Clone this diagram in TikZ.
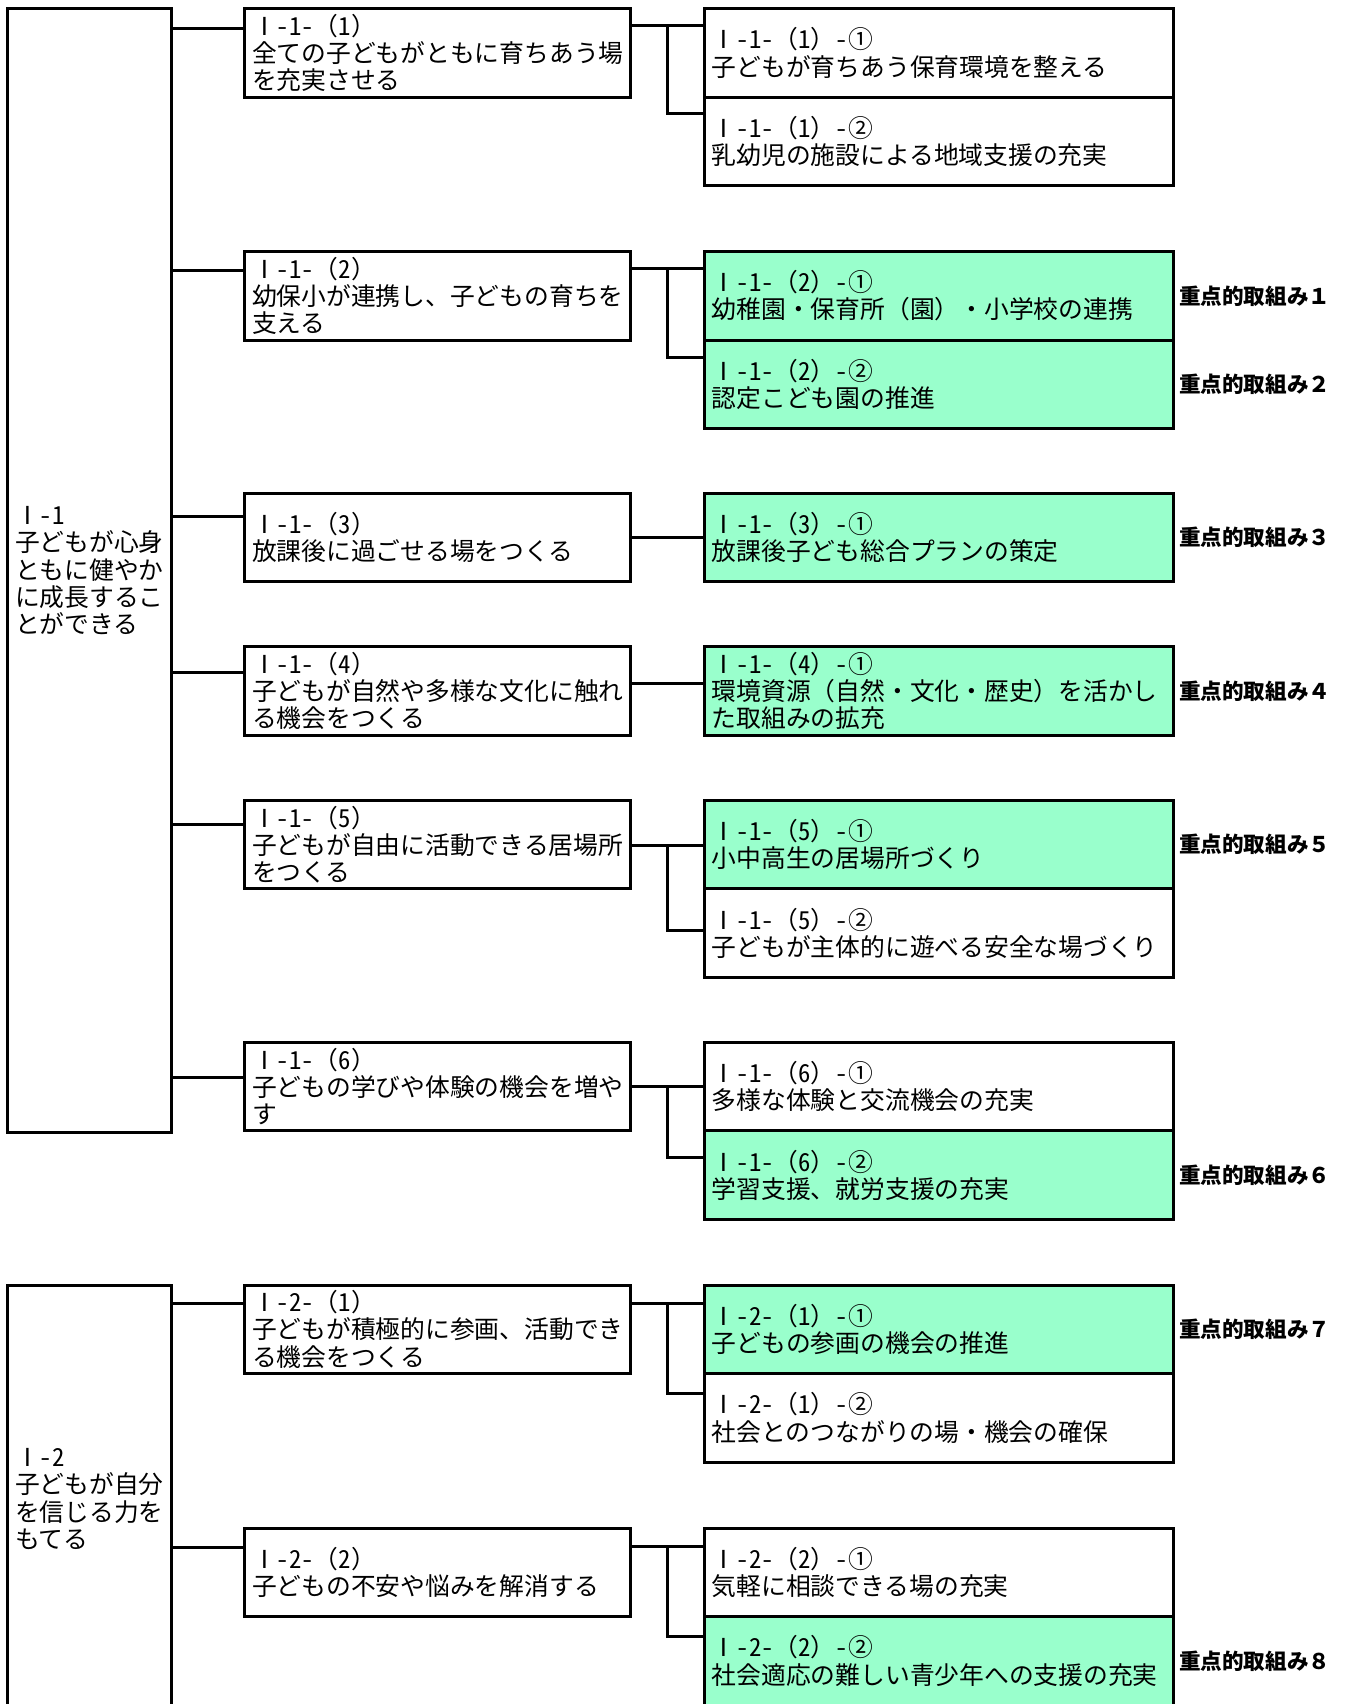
\documentclass[tikz,border=0pt]{standalone}
\usepackage{fontspec}
\setmainfont{Noto Sans CJK JP}
\newfontfamily\halffont[CharacterWidth=Half]{Noto Sans CJK JP}
\newcommand{\hw}[1]{{\halffont #1}}
\usetikzlibrary{positioning, calc}
\definecolor{keygreen}{HTML}{99FFCC}

\begin{document}
\begin{tikzpicture}[
  box/.style={rectangle, draw=black, line width=1.7pt, outer sep=0pt,
              inner xsep=0.15cm, inner ysep=0pt, align=left,
              font=\fontsize{14.1pt}{15.5pt}\selectfont, anchor=north west},
  goalbox/.style={box, text width=2.98cm},
  midbox/.style={box, text width=7.42cm, minimum height=1.772cm},
  subbox/.style={box, text width=9.09cm, minimum height=1.772cm, fill=white},
  keybox/.style={subbox, fill=keygreen},
  keylabel/.style={font=\fontsize{12.3pt}{14pt}\selectfont\bfseries, inner sep=0pt},
  link/.style={line width=1.7pt},
]
\useasboundingbox (0,0) rectangle (26.979,-34.088);

% Goals
\node[goalbox, minimum height=22.48cm] (l1) at (0.152,-0.174)
  {Ⅰ\hw{-1}\\子どもが心身\\ともに健やか\\に成長するこ\\とができる};
\node[goalbox, minimum height=8.54cm] (l2) at (0.152,-25.718)
  {Ⅰ\hw{-2}\\子どもが自分\\を信じる力を\\もてる};

% Policies
\node[midbox] (m1) at (4.892,-0.174)  {Ⅰ\hw{-1-}（\hw{1}）\\全ての子どもがともに育ちあう場\\を充実させる};
\node[midbox] (m2) at (4.892,-5.033)  {Ⅰ\hw{-1-}（\hw{2}）\\幼保小が連携し、子どもの育ちを\\支える};
\node[midbox] (m3) at (4.892,-9.870)  {Ⅰ\hw{-1-}（\hw{3}）\\放課後に過ごせる場をつくる};
\node[midbox] (m4) at (4.892,-12.935) {Ⅰ\hw{-1-}（\hw{4}）\\子どもが自然や多様な文化に触れ\\る機会をつくる};
\node[midbox] (m5) at (4.892,-16.011) {Ⅰ\hw{-1-}（\hw{5}）\\子どもが自由に活動できる居場所\\をつくる};
\node[midbox] (m6) at (4.892,-20.849) {Ⅰ\hw{-1-}（\hw{6}）\\子どもの学びや体験の機会を増や\\す};
\node[midbox] (m7) at (4.892,-25.708) {Ⅰ\hw{-2-}（\hw{1}）\\子どもが積極的に参画、活動でき\\る機会をつくる};
\node[midbox] (m8) at (4.892,-30.567) {Ⅰ\hw{-2-}（\hw{2}）\\子どもの不安や悩みを解消する};

% Measures
\node[subbox, right=1.478cm of m1] (r1a) {Ⅰ\hw{-1-}（\hw{1}）\hw{-}①\\子どもが育ちあう保育環境を整える};
\node[subbox, below=0pt of r1a]    (r1b) {Ⅰ\hw{-1-}（\hw{1}）\hw{-}②\\乳幼児の施設による地域支援の充実};
\node[keybox, right=1.478cm of m2] (r2a) {Ⅰ\hw{-1-}（\hw{2}）\hw{-}①\\幼稚園・保育所（園）・小学校の連携};
\node[keybox, below=0pt of r2a]    (r2b) {Ⅰ\hw{-1-}（\hw{2}）\hw{-}②\\認定こども園の推進};
\node[keybox, right=1.478cm of m3] (r3a) {Ⅰ\hw{-1-}（\hw{3}）\hw{-}①\\放課後子ども総合プランの策定};
\node[keybox, right=1.478cm of m4] (r4a) {Ⅰ\hw{-1-}（\hw{4}）\hw{-}①\\環境資源（自然・文化・歴史）を活かし\\た取組みの拡充};
\node[keybox, right=1.478cm of m5] (r5a) {Ⅰ\hw{-1-}（\hw{5}）\hw{-}①\\小中高生の居場所づくり};
\node[subbox, below=0pt of r5a]    (r5b) {Ⅰ\hw{-1-}（\hw{5}）\hw{-}②\\子どもが主体的に遊べる安全な場づくり};
\node[subbox, right=1.478cm of m6] (r6a) {Ⅰ\hw{-1-}（\hw{6}）\hw{-}①\\多様な体験と交流機会の充実};
\node[keybox, below=0pt of r6a]    (r6b) {Ⅰ\hw{-1-}（\hw{6}）\hw{-}②\\学習支援、就労支援の充実};
\node[keybox, right=1.478cm of m7] (r7a) {Ⅰ\hw{-2-}（\hw{1}）\hw{-}①\\子どもの参画の機会の推進};
\node[subbox, below=0pt of r7a]    (r7b) {Ⅰ\hw{-2-}（\hw{1}）\hw{-}②\\社会とのつながりの場・機会の確保};
\node[subbox, right=1.478cm of m8] (r8a) {Ⅰ\hw{-2-}（\hw{2}）\hw{-}①\\気軽に相談できる場の充実};
\node[keybox, below=0pt of r8a]    (r8b) {Ⅰ\hw{-2-}（\hw{2}）\hw{-}②\\社会適応の難しい青少年への支援の充実};

% Priority labels
\node[keylabel, right=0.1cm of r2a] (k1) {重点的取組み１};
\node[keylabel, right=0.1cm of r2b] (k2) {重点的取組み２};
\node[keylabel, right=0.1cm of r3a] (k3) {重点的取組み３};
\node[keylabel, right=0.1cm of r4a] (k4) {重点的取組み４};
\node[keylabel, right=0.1cm of r5a] (k5) {重点的取組み５};
\node[keylabel, right=0.1cm of r6b] (k6) {重点的取組み６};
\node[keylabel, right=0.1cm of r7a] (k7) {重点的取組み７};
\node[keylabel, right=0.1cm of r8b] (k8) {重点的取組み８};

% Goal to policy
\foreach \m/\l/\d in {m1/l1/0.39, m2/l1/0.38, m3/l1/0.46, m4/l1/0.52,
                      m5/l1/0.49, m6/l1/0.70, m7/l2/0.36, m8/l2/0.39} {
  \coordinate (in\m) at ([yshift=-\d cm]\m.north west);
  \draw[link] (in\m) -- (in\m -| \l.east);
}

% Policy to first measure
\foreach \m/\r/\d in {m1/r1a/0.33, m2/r2a/0.34, m3/r3a/0.89, m4/r4a/0.74,
                      m5/r5a/0.90, m6/r6a/0.89, m7/r7a/0.36, m8/r8a/0.37} {
  \coordinate (out\m) at ([yshift=-\d cm]\m.north east);
  \draw[link] (out\m) -- (out\m -| \r.west);
}

% Brackets to second measure
\foreach \m/\r/\d in {m1/r1b/0.32, m2/r2b/0.35, m5/r5b/0.83,
                      m6/r6b/0.54, m7/r7b/0.39, m8/r8b/0.39} {
  \coordinate (mid\m) at ($(\m.east)!0.5!(\r.west)$);
  \coordinate (low\m) at ([yshift=-\d cm]\r.north west);
  \draw[link] (mid\m |- out\m) -- (mid\m |- low\m) -- (low\m);
}
\end{tikzpicture}
\end{document}
